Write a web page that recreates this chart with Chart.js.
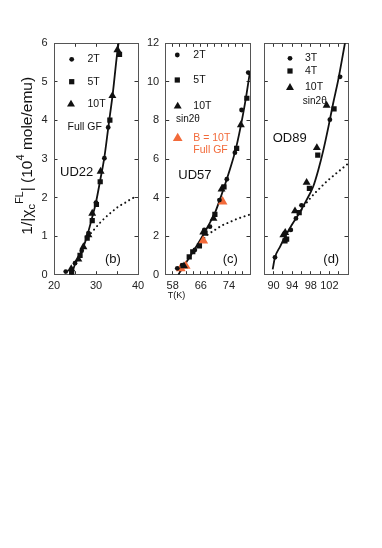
<!DOCTYPE html>
<html><head><meta charset="utf-8">
<script src="https://cdn.jsdelivr.net/npm/chart.js@4.4.0/dist/chart.umd.min.js"></script>
<style>
html,body{margin:0;padding:0;background:#fff;}
#wrap{position:relative;width:382px;height:548px;background:#fff;}
canvas{position:absolute;left:0;top:0;}
</style></head><body>
<div id="wrap">
<canvas id="cb" width="382" height="548"></canvas>
<canvas id="cc" width="382" height="548"></canvas>
<canvas id="cd" width="382" height="548"></canvas>
</div>
<script>
// ---------- DATA ----------
// Panel (b) UD22
const b2T_T   = [22.8, 25.0, 26.6, 28.2, 30.0, 32.0, 32.9];
const b2T_v   = [0.08, 0.30, 0.62, 1.08, 1.87, 3.02, 3.82];
const b5T_T   = [24.2, 26.2, 27.9, 29.1, 30.1, 31.0, 33.3, 35.6];
const b5T_v   = [0.05, 0.50, 0.95, 1.40, 1.82, 2.41, 4.01, 5.71];
const b10T_T  = [24.1, 25.8, 27.0, 28.2, 29.1, 31.1, 33.9, 35.1];
const b10T_v  = [0.15, 0.40, 0.72, 1.03, 1.59, 2.68, 4.64, 5.83];
const bFit_T  = [24.2, 25, 26, 27, 28, 29, 30, 31, 32, 33, 34, 35, 35.5];
const bFit_v  = [0.0, 0.27, 0.48, 0.72, 1.05, 1.45, 1.88, 2.45, 3.05, 3.88, 4.7, 5.7, 6.1];
const bDot_T  = [28, 29, 30, 31, 32, 33, 34, 35, 36, 37, 38, 39];
const bDot_v  = [1.0, 1.1, 1.23, 1.35, 1.46, 1.56, 1.65, 1.74, 1.81, 1.87, 1.94, 2.0];

// Panel (c) UD57
const c2T_T   = [59.3, 60.7, 64.3, 67.0, 68.6, 71.3, 73.4, 75.7, 77.6, 79.5];
const c2T_v   = [0.33, 0.50, 1.28, 2.32, 2.49, 3.87, 4.95, 6.33, 8.54, 10.48];
const c5T_T   = [62.7, 63.7, 65.6, 67.2, 70.0, 72.6, 76.2, 79.1];
const c5T_v   = [0.93, 1.19, 1.49, 2.15, 3.13, 4.56, 6.55, 9.15];
const c10T_T  = [61.2, 66.7, 69.6, 71.9, 77.4];
const c10T_v  = [0.45, 2.20, 2.92, 4.43, 7.77];
const cGF_T   = [60.3, 61.7, 66.7, 72.2];
const cGF_v   = [0.33, 0.45, 1.76, 3.79];
const cFit_T  = [59.6, 60, 62, 64, 66, 68, 70, 72, 74, 76, 78, 79, 80];
const cFit_v  = [0.0, 0.12, 0.68, 1.25, 1.85, 2.5, 3.2, 4.2, 5.3, 6.55, 8.3, 9.35, 10.55];
const cDot_T  = [67, 68, 70, 72, 74, 76, 78, 80];
const cDot_v  = [1.9, 2.08, 2.32, 2.55, 2.71, 2.87, 3.0, 3.12];

// Panel (d) OD89
const d3T_T   = [90.3, 93.7, 94.8, 96.0, 102.1, 104.3];
const d3T_v   = [0.45, 1.16, 1.46, 1.80, 4.02, 5.13];
const d4T_T   = [92.45, 92.8, 95.5, 97.7, 99.5, 103.0];
const d4T_v   = [0.88, 0.92, 1.61, 2.24, 3.10, 4.30];
const d10T_T  = [92.1, 92.5, 94.6, 97.1, 99.3, 101.4];
const d10T_v  = [1.03, 1.09, 1.65, 2.39, 3.29, 4.39];
const dFit_T  = [89.8, 90.3, 91.4, 92.5, 93.9, 95.7, 97.1, 98.5, 99.6, 100.7, 101.8, 102.8, 103.9, 105.4];
const dFit_v  = [0.14, 0.45, 0.73, 0.99, 1.29, 1.63, 1.94, 2.28, 2.71, 3.23, 3.84, 4.44, 5.05, 6.04];
const dDot_T  = [96, 97, 98, 99, 100, 101, 102, 103, 104, 105, 106];
const dDot_v  = [1.68, 1.85, 2.0, 2.13, 2.25, 2.37, 2.48, 2.58, 2.68, 2.78, 2.88];

// Tick labels
const bXLabels = [20, 30, 40];
const cXLabels = [58, 66, 74];
const dXLabels = [90, 94, 98, 102];

// ---------- STYLE / HELPERS ----------
const FONT = "'Liberation Sans', Arial, Helvetica, sans-serif";
const INK = '#111';
const ORANGE = '#f26a3a';
const LEG = 10.5;
Chart.defaults.font.family = FONT;

const pts = (xs, ys) => xs.map((x, i) => ({x: x, y: ys[i]}));

function markers(label, xs, ys, style, r, color) {
  return {type: 'scatter', label, data: pts(xs, ys), pointStyle: style, pointRadius: r,
    pointHoverRadius: r, backgroundColor: color || INK, borderColor: color || INK, borderWidth: 0};
}
function fitLine(label, xs, ys) {
  return {type: 'line', label, data: pts(xs, ys), borderColor: INK, borderWidth: 1.8,
    pointRadius: 0, cubicInterpolationMode: 'monotone', fill: false};
}
function dotLine(label, xs, ys) {
  return {type: 'line', label, data: pts(xs, ys), borderColor: INK, borderWidth: 2,
    borderDash: [0.01, 4.6], borderCapStyle: 'round', pointRadius: 0,
    cubicInterpolationMode: 'monotone', fill: false};
}

function sym(ctx, style, x, y, r, color) {
  ctx.save();
  ctx.fillStyle = color || INK;
  ctx.beginPath();
  if (style === 'circle') { ctx.arc(x, y, r, 0, Math.PI * 2); }
  else if (style === 'rect') { const s = r * Math.SQRT1_2; ctx.rect(x - s, y - s, 2 * s, 2 * s); }
  else {
    ctx.moveTo(x, y - r);
    ctx.lineTo(x + r * Math.sqrt(3) / 2, y + r / 2);
    ctx.lineTo(x - r * Math.sqrt(3) / 2, y + r / 2);
    ctx.closePath();
  }
  ctx.fill();
  ctx.restore();
}
function txt(ctx, s, x, y, size, color) {
  ctx.save();
  ctx.font = size + 'px ' + FONT;
  ctx.fillStyle = color || INK;
  ctx.textAlign = 'left';
  ctx.textBaseline = 'middle';
  ctx.fillText(s, x, y);
  ctx.restore();
}

function notesPlugin(fn) {
  return {id: 'notes', afterDraw(chart) { fn(chart.ctx, chart.chartArea, chart); }};
}

function makePanel(id, area, xr, yr, xStep, yStep, xLabFn, yLabFn, datasets, noteFn) {
  const [L, T, R, B] = area;
  const W = 382, H = 548, wy = 30, hx = 24;
  const gridCommon = {drawOnChartArea: false, drawTicks: true, tickLength: -3.5, color: '#333', lineWidth: 1};
  const border = {display: true, color: '#555', width: 1};
  const tickFont = {size: 11, family: FONT};
  new Chart(document.getElementById(id), {
    type: 'scatter',
    data: {datasets},
    options: {
      responsive: false, animation: false, devicePixelRatio: 1,
      layout: {padding: {left: L - wy, right: W - R, top: T, bottom: H - B - hx}},
      plugins: {legend: {display: false}, tooltip: {enabled: false}},
      elements: {line: {tension: 0}},
      scales: {
        x: {type: 'linear', position: 'bottom', min: xr[0], max: xr[1],
            afterFit: s => { s.height = hx; },
            ticks: {stepSize: xStep, autoSkip: false, maxRotation: 0, padding: 8, color: '#222', font: tickFont,
                    callback: xLabFn},
            grid: gridCommon, border},
        x2: {type: 'linear', position: 'top', min: xr[0], max: xr[1],
            afterFit: s => { s.height = 0; },
            ticks: {stepSize: xStep, autoSkip: false, display: false}, grid: gridCommon, border},
        y: {type: 'linear', position: 'left', min: yr[0], max: yr[1],
            afterFit: s => { s.width = wy; },
            ticks: {stepSize: yStep, autoSkip: false, padding: 10, color: '#222', font: tickFont,
                    callback: yLabFn},
            grid: gridCommon, border},
        y2: {type: 'linear', position: 'right', min: yr[0], max: yr[1],
            afterFit: s => { s.width = 0; },
            ticks: {stepSize: yStep, autoSkip: false, display: false}, grid: gridCommon, border}
      }
    },
    plugins: [notesPlugin(noteFn)]
  });
}

const labIf = list => (v) => list.includes(Math.round(v * 100) / 100) ? String(v) : '';

// ---------- PANEL (b) ----------
makePanel('cb', [54, 43.3, 138, 274.7], [20, 40], [0, 6], 5, 1,
  labIf(bXLabels), v => String(v),
  [
    markers('2T', b2T_T, b2T_v, 'circle', 2.4),
    markers('5T', b5T_T, b5T_v, 'rect', 3.7),
    markers('10T', b10T_T, b10T_v, 'triangle', 4.6),
    fitLine('fit', bFit_T, bFit_v),
    dotLine('sin2θ', bDot_T, bDot_v)
  ],
  (ctx, a) => {
    const l = a.left, t = a.top;
    sym(ctx, 'circle', l + 17.7, t + 16, 2.4);   txt(ctx, '2T', l + 33.5, t + 16, LEG);
    sym(ctx, 'rect', l + 17.7, t + 38.4, 3.7);   txt(ctx, '5T', l + 33.5, t + 38.4, LEG);
    sym(ctx, 'triangle', l + 17, t + 61, 4.6);   txt(ctx, '10T', l + 33.5, t + 60.7, LEG);
    txt(ctx, 'Full GF', l + 13.5, t + 84, 10.5);
    txt(ctx, 'UD22', l + 6, t + 129.4, 13);
    txt(ctx, '(b)', l + 51, t + 216, 13);
    // y-axis title (rotated)
    ctx.save();
    ctx.translate(l - 22.5, t + 112.5);
    ctx.rotate(-Math.PI / 2);
    ctx.fillStyle = INK;
    ctx.textBaseline = 'alphabetic';
    const big = '15.5px ' + FONT, small = '11px ' + FONT;
    const parts = [
      ['1/|χ', big, 0], ['c', small, 3], ['FL', small, -8.5], ['| (10', big, 0],
      ['4', small, -7.5], [' mole/emu)', big, 0]
    ];
    let total = 0;
    parts.forEach(p => { ctx.font = p[1]; total += ctx.measureText(p[0]).width; });
    let x = -total / 2;
    parts.forEach(p => { ctx.font = p[1]; ctx.fillText(p[0], x, p[2]); x += ctx.measureText(p[0]).width; });
    ctx.restore();
  });

// ---------- PANEL (c) ----------
makePanel('cc', [165.7, 43.3, 250, 274.7], [56, 80], [0, 12], 2, 2,
  labIf(cXLabels), v => String(v),
  [
    markers('2T', c2T_T, c2T_v, 'circle', 2.4),
    markers('5T', c5T_T, c5T_v, 'rect', 3.7),
    markers('10T', c10T_T, c10T_v, 'triangle', 4.6),
    markers('B = 10T Full GF', cGF_T, cGF_v, 'triangle', 5.6, ORANGE),
    fitLine('fit', cFit_T, cFit_v),
    dotLine('sin2θ', cDot_T, cDot_v)
  ],
  (ctx, a) => {
    const l = a.left, t = a.top;
    sym(ctx, 'circle', l + 11.6, t + 11.7, 2.4);  txt(ctx, '2T', l + 27.6, t + 11.7, LEG);
    sym(ctx, 'rect', l + 11.6, t + 36.7, 3.7);    txt(ctx, '5T', l + 27.6, t + 36.7, LEG);
    sym(ctx, 'triangle', l + 12, t + 63, 4.6);    txt(ctx, '10T', l + 27.6, t + 62.7, LEG);
    txt(ctx, 'sin2θ', l + 10.3, t + 76, 10);
    sym(ctx, 'triangle', l + 12, t + 95, 5.6, ORANGE);
    txt(ctx, 'B = 10T', l + 27.6, t + 94.4, 10.5, ORANGE);
    txt(ctx, 'Full GF', l + 27.6, t + 106.7, 10.5, ORANGE);
    txt(ctx, 'UD57', l + 12.6, t + 131.7, 13);
    txt(ctx, '(c)', l + 57, t + 216, 13);
    txt(ctx, 'T(K)', l + 2, a.bottom + 21, 9);
  });

// ---------- PANEL (d) ----------
makePanel('cd', [264.3, 43.3, 348, 274.7], [88, 106], [0, 6], 2, 1,
  labIf(dXLabels), () => '',
  [
    markers('3T', d3T_T, d3T_v, 'circle', 2.4),
    markers('4T', d4T_T, d4T_v, 'rect', 3.7),
    markers('10T', d10T_T, d10T_v, 'triangle', 4.6),
    fitLine('fit', dFit_T, dFit_v),
    dotLine('sin2θ', dDot_T, dDot_v)
  ],
  (ctx, a) => {
    const l = a.left, t = a.top;
    sym(ctx, 'circle', l + 25.7, t + 15, 2.4);    txt(ctx, '3T', l + 40.7, t + 15, LEG);
    sym(ctx, 'rect', l + 25.7, t + 27.7, 3.7);    txt(ctx, '4T', l + 40.7, t + 27.7, LEG);
    sym(ctx, 'triangle', l + 25.7, t + 44.3, 4.6); txt(ctx, '10T', l + 40.7, t + 44, LEG);
    txt(ctx, 'sin2θ', l + 38.5, t + 58.4, 10);
    txt(ctx, 'OD89', l + 8.4, t + 95, 13);
    txt(ctx, '(d)', l + 59, t + 216, 13);
  });
</script>
</body></html>
